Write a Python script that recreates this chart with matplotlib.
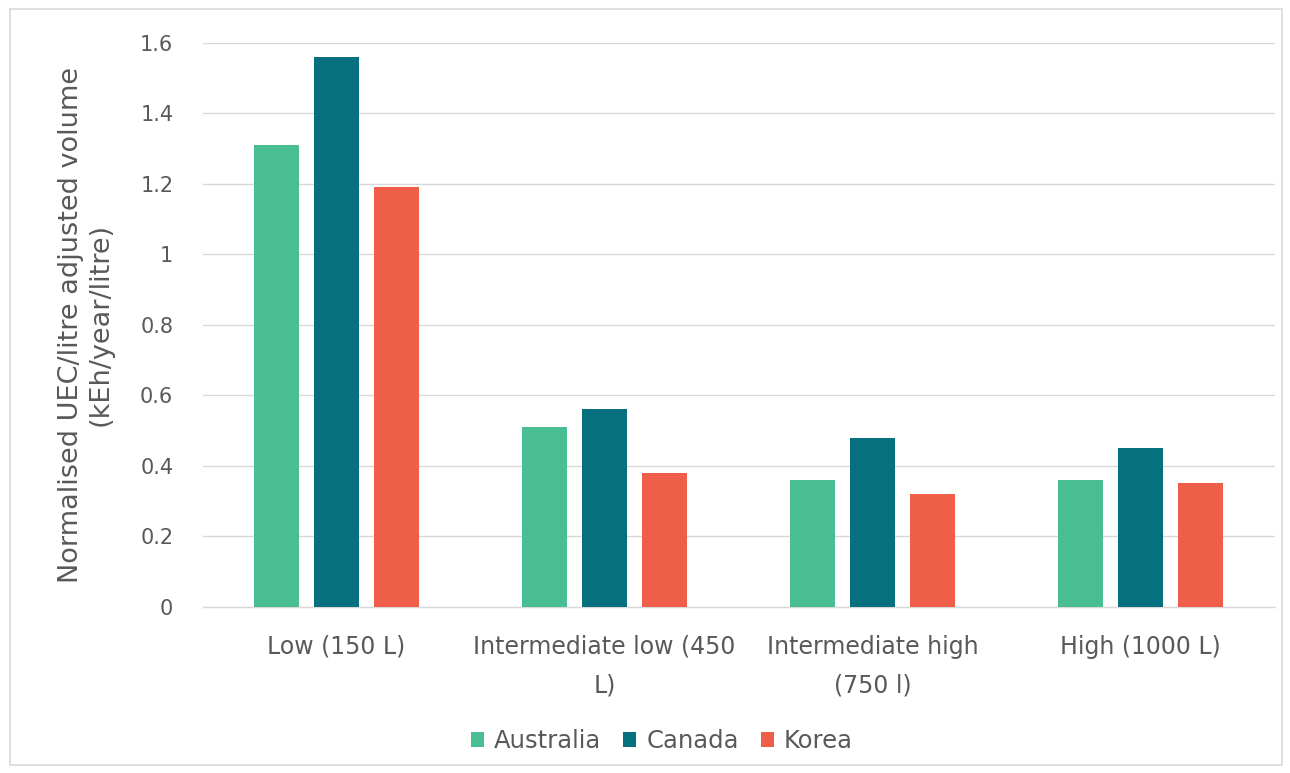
import matplotlib
matplotlib.use('Agg')
import numpy as np
import matplotlib.pyplot as plt
from matplotlib.patches import Rectangle

# data
categories = ['Low (150 L)', 'Intermediate low (450\nL)', 'Intermediate high\n(750 l)', 'High (1000 L)']
series_names = ['Australia', 'Canada', 'Korea']
australia = [1.31, 0.51, 0.36, 0.36]
canada = [1.56, 0.56, 0.48, 0.45]
korea = [1.19, 0.38, 0.32, 0.35]
yticks = [0, 0.2, 0.4, 0.6, 0.8, 1, 1.2, 1.4, 1.6]
ytick_labels = ['0', '0.2', '0.4', '0.6', '0.8', '1', '1.2', '1.4', '1.6']

colors = ['#48BE92', '#06707F', '#EF5E48']
text_color = '#595959'

plt.rcParams['font.family'] = ['DejaVu Sans']

fig = plt.figure(figsize=(12.9, 7.73), dpi=100)
ax = fig.add_axes([0.157, 0.215, 0.831, 0.73])

# light frame around the whole chart
fig.patches.append(Rectangle((0.008, 0.01), 0.986, 0.978, transform=fig.transFigure,
                             fill=False, edgecolor='#D9D9D9', linewidth=1.2))

x = np.arange(len(categories))
width = 0.17
step = 0.224
for i, (name, vals) in enumerate(zip(series_names, [australia, canada, korea])):
    ax.bar(x + (i - 1) * step, vals, width, color=colors[i], label=name, zorder=3)

ax.set_xlim(-0.5, len(categories) - 0.5)
ax.set_ylim(0, 1.6)
ax.set_yticks(yticks)
ax.set_yticklabels(ytick_labels, fontsize=15, color=text_color)
ax.set_xticks(x)
ax.set_xticklabels(categories, fontsize=17, color=text_color, linespacing=1.8)
ax.tick_params(axis='both', length=0)
ax.tick_params(axis='y', pad=21)
ax.tick_params(axis='x', pad=20)

ax.grid(axis='y', color='#D9D9D9', linewidth=1, zorder=0)
for side in ['top', 'right', 'left']:
    ax.spines[side].set_visible(False)
ax.spines['bottom'].set_color('#D9D9D9')
ax.spines['bottom'].set_linewidth(1)

ax.set_ylabel('Normalised UEC/litre adjusted volume\n(kEh/year/litre)', fontsize=19.5,
              color=text_color, labelpad=19, linespacing=1.2)

handles, labels = ax.get_legend_handles_labels()
fig.legend(handles, labels, loc='center', bbox_to_anchor=(0.513, 0.041), ncol=3,
           frameon=False, fontsize=17.5, labelcolor=text_color, handlelength=0.55,
           handleheight=0.55, handletextpad=0.4, columnspacing=0.9)

plt.savefig('out.png', dpi=100)
